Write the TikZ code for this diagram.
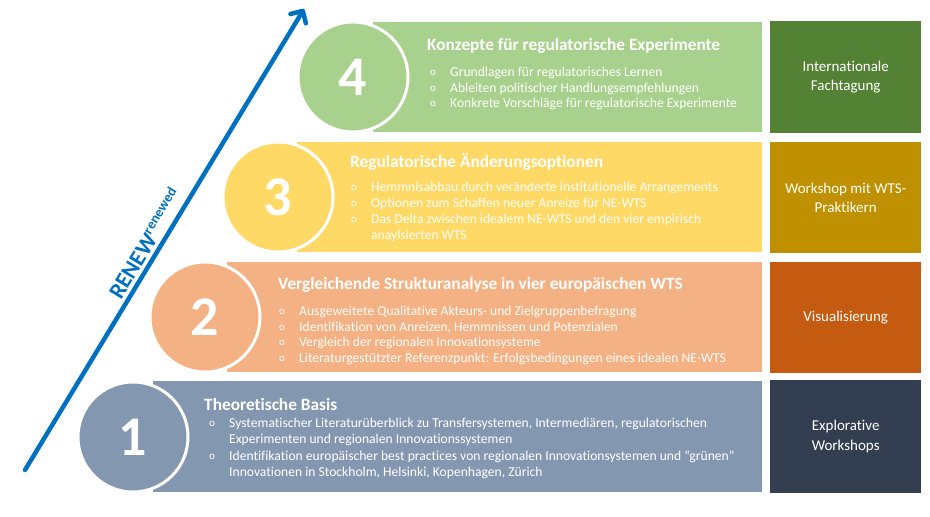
\documentclass[tikz,border=0pt]{standalone}
\usepackage{fontspec}
\setmainfont{Carlito}[Ligatures=NoCommon]
\usetikzlibrary{arrows.meta}
\definecolor{bandA}{HTML}{8497B0}
\definecolor{bandB}{HTML}{F4B183}
\definecolor{bandC}{HTML}{FFD966}
\definecolor{bandD}{HTML}{A9D18E}
\definecolor{boxA}{HTML}{333F50}
\definecolor{boxB}{HTML}{C55A11}
\definecolor{boxC}{HTML}{BF9000}
\definecolor{boxD}{HTML}{548235}
\definecolor{arrowblue}{HTML}{0070C0}
\tikzset{
  band/.style={anchor=north west, inner sep=0pt, minimum height=110pt},
  numcirc/.style={circle, draw=white, line width=3pt, minimum size=110pt, inner sep=0pt,
    text=white, font=\fontsize{56}{56}\selectfont\bfseries},
  sidebox/.style={anchor=north west, inner sep=0pt, minimum width=151pt, text=white,
    align=center, font=\fontsize{15}{19.5}\selectfont},
  bandtitle/.style={anchor=west, inner sep=0pt, text=white, font=\fontsize{17.3}{18}\selectfont\bfseries},
  bline/.style={anchor=west, inner sep=0pt, text=white, font=\fontsize{13.6}{14}\selectfont},
  bmark/.style={anchor=west, inner sep=0pt, text=white, font=\fontsize{11}{12}\selectfont},
}
\newcommand{\bulitem}[4]{%
  \node[bmark] (#1o) at (#2,#3) {o};
  \node[bline] (#1) at ([xshift=20pt]#1o.west) {#4};}
\newcommand{\contline}[4]{%
  \node[bline] (#1) at (#2,#3) {#4};}
\begin{document}
\begin{tikzpicture}[x=1pt,y=-1pt]
\useasboundingbox (0,0) rectangle (930,517);
\fill[white] (0,0) rectangle (930,517);
% bands
\node[band, fill=bandA, minimum width=609pt, minimum height=111pt] (b1) at (153,381) {};
\node[band, fill=bandB, minimum width=535pt] (b2) at (227,262) {};
\node[band, fill=bandC, minimum width=465pt] (b3) at (297,142) {};
\node[band, fill=bandD, minimum width=389pt] (b4) at (373,22) {};
% circles
\node[numcirc, fill=bandA] (c1) at (133,437) {1};
\node[numcirc, fill=bandB] (c2) at (205,317) {2};
\node[numcirc, fill=bandC] (c3) at (278,197) {3};
\node[numcirc, fill=bandD] (c4) at (353,77) {4};
% side boxes
\node[sidebox, fill=boxD, minimum height=112pt] (s4) at (770,21) {Internationale\\Fachtagung};
\node[sidebox, fill=boxC, minimum height=111pt] (s3) at (770,142) {Workshop mit WTS-\\Praktikern};
\node[sidebox, fill=boxB, minimum height=111pt] (s2) at (770,262) {Visualisierung};
\node[sidebox, fill=boxA, minimum height=113pt] (s1) at (770,380) {Explorative\\Workshops};
% band 4
\node[bandtitle] (t4) at (427,46) {Konzepte für regulatorische Experimente};
\bulitem{l4a}{430}{73}{Grundlagen für regulatorisches Lernen}
\bulitem{l4b}{430}{88.5}{Ableiten politischer Handlungsempfehlungen}
\bulitem{l4c}{430}{104}{Konkrete Vorschläge für regulatorische Experimente}
% band 3
\node[bandtitle] (t3) at (350,162) {Regulatorische Änderungsoptionen};
\bulitem{l3a}{351}{188}{Hemmnisabbau durch veränderte institutionelle Arrangements}
\bulitem{l3b}{351}{204}{Optionen zum Schaffen neuer Anreize für NE-WTS}
\bulitem{l3c}{351}{220}{Das Delta zwischen idealem NE-WTS und den vier empirisch}
\contline{l3d}{371}{236}{anaylsierten WTS}
% band 2
\node[bandtitle] (t2) at (278,285) {Vergleichende Strukturanalyse in vier europäischen WTS};
\bulitem{l2a}{279}{312}{Ausgeweitete Qualitative Akteurs- und Zielgruppenbefragung}
\bulitem{l2b}{279}{327.5}{Identifikation von Anreizen, Hemmnissen und Potenzialen}
\bulitem{l2c}{279}{343}{Vergleich der regionalen Innovationsysteme}
\bulitem{l2d}{279}{359}{Literaturgestützter Referenzpunkt: Erfolgsbedingungen eines idealen NE-WTS}
% band 1
\node[bandtitle] (t1) at (204,404) {Theoretische Basis};
\bulitem{l1a}{209}{424}{Systematischer Literaturüberblick zu Transfersystemen, Intermediären, regulatorischen}
\contline{l1b}{229}{440}{Experimenten und regionalen Innovationssystemen}
\bulitem{l1c}{209}{457}{Identifikation europäischer best practices von regionalen Innovationsystemen und “grünen”}
\contline{l1d}{229}{473}{Innovationen in Stockholm, Helsinki, Kopenhagen, Zürich}
% arrow
\coordinate (as) at (25,470);
\coordinate (ae) at (304,9);
\draw[arrowblue, line width=4.5pt, line cap=round,
  -{Straight Barb[length=9pt, width=18pt, line cap=round, line join=round]}]
  (as) -- (ae) node[pos=0.475, sloped, above=3pt, inner sep=0pt, text=arrowblue] (renew)
  {\fontsize{23}{24}\selectfont\bfseries RENEW\raisebox{9pt}{\fontsize{14}{15}\selectfont renewed}};
\end{tikzpicture}
\end{document}
